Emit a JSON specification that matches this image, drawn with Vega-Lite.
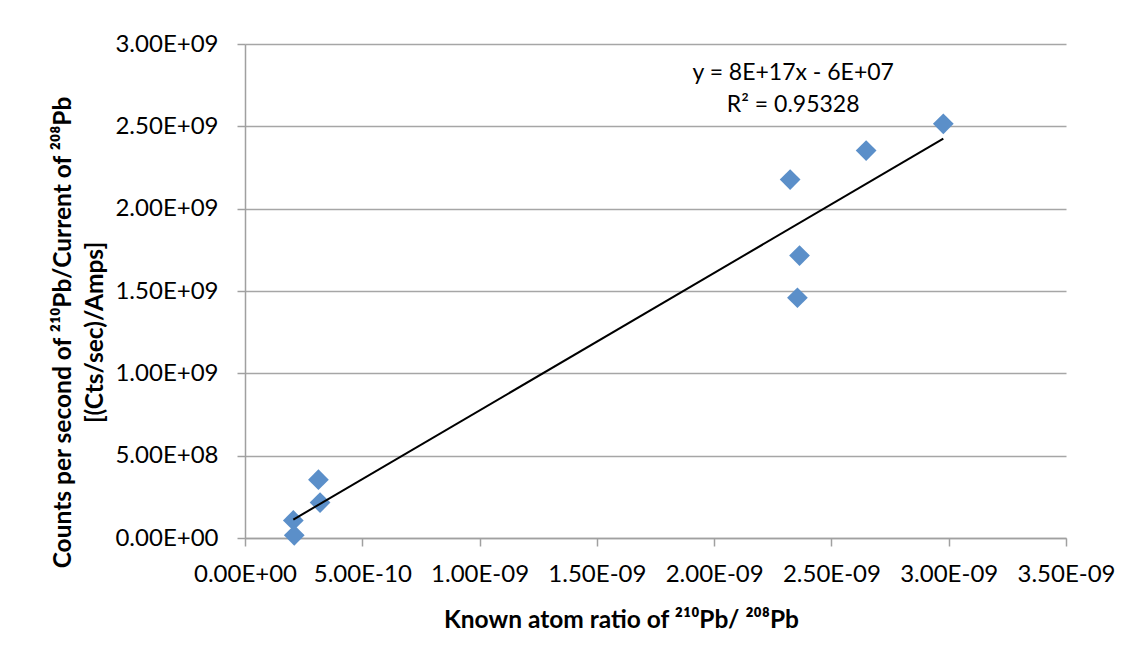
{
  "$schema": "https://vega.github.io/schema/vega-lite/v6.json",
  "width": 821,
  "height": 494,
  "autosize": {"type": "none"},
  "padding": {"left": 245, "top": 44, "right": 74, "bottom": 127},
  "background": "white",
  "config": {
    "view": {"stroke": null},
    "font": "Lato",
    "axis": {
      "labelFont": "Lato",
      "labelFontSize": 24,
      "labelColor": "#000000",
      "titleFont": "Lato",
      "titleFontSize": 24.5,
      "titleFontWeight": "bold",
      "titleColor": "#000000",
      "domainColor": "#a0a0a0",
      "domainWidth": 1.5,
      "tickColor": "#a0a0a0",
      "tickWidth": 1.5,
      "tickSize": 8,
      "gridColor": "#a6a6a6",
      "gridWidth": 1.5
    }
  },
  "datasets": {
    "points": [
      {"ratio": 2.06e-10, "cps": 1.07e8},
      {"ratio": 2.10e-10, "cps": 1.6e7},
      {"ratio": 3.13e-10, "cps": 3.54e8},
      {"ratio": 3.20e-10, "cps": 2.15e8},
      {"ratio": 2.324e-9, "cps": 2.177e9},
      {"ratio": 2.364e-9, "cps": 1.715e9},
      {"ratio": 2.355e-9, "cps": 1.459e9},
      {"ratio": 2.648e-9, "cps": 2.353e9},
      {"ratio": 2.977e-9, "cps": 2.515e9}
    ],
    "note": [
      {"label": "trendline equation"}
    ]
  },
  "layer": [
    {
      "data": {"name": "points"},
      "mark": {"type": "point", "shape": "diamond", "filled": true, "size": 430, "color": "#5b8fc9", "opacity": 1},
      "encoding": {
        "x": {
          "field": "ratio",
          "type": "quantitative",
          "scale": {"domain": [0, 3.5e-9], "nice": false, "zero": true},
          "axis": {
            "values": [0, 5e-10, 1e-9, 1.5e-9, 2e-9, 2.5e-9, 3e-9, 3.5e-9],
            "labelExpr": "datum.value == 0 ? '0.00E+00' : format(datum.value / pow(10, floor(log(abs(datum.value)) / LN10 + 1e-6)), '.2f') + 'E' + (floor(log(abs(datum.value)) / LN10 + 1e-6) < 0 ? '-' : '+') + (abs(floor(log(abs(datum.value)) / LN10 + 1e-6)) < 10 ? '0' : '') + abs(floor(log(abs(datum.value)) / LN10 + 1e-6))",
            "grid": false,
            "labelPadding": 16,
            "labelFlush": false,
            "labelOverlap": false,
            "title": "Known atom ratio of ²¹⁰Pb/ ²⁰⁸Pb",
            "titleX": 376,
            "titleY": 89,
            "titleAnchor": null,
            "titleAlign": "center",
            "titleBaseline": "alphabetic"
          }
        },
        "y": {
          "field": "cps",
          "type": "quantitative",
          "scale": {"domain": [0, 3e9], "nice": false, "zero": true},
          "axis": {
            "values": [0, 5e8, 1e9, 1.5e9, 2e9, 2.5e9, 3e9],
            "labelExpr": "datum.value == 0 ? '0.00E+00' : format(datum.value / pow(10, floor(log(abs(datum.value)) / LN10 + 1e-6)), '.2f') + 'E' + (floor(log(abs(datum.value)) / LN10 + 1e-6) < 0 ? '-' : '+') + (abs(floor(log(abs(datum.value)) / LN10 + 1e-6)) < 10 ? '0' : '') + abs(floor(log(abs(datum.value)) / LN10 + 1e-6))",
            "grid": true,
            "labelPadding": 19,
            "labelFlush": false,
            "labelOverlap": false,
            "title": ["Counts per second of ²¹⁰Pb/Current of ²⁰⁸Pb", "[(Cts/sec)/Amps]"],
            "titleAngle": -90,
            "titleX": -175,
            "titleY": 288,
            "titleAnchor": null,
            "titleAlign": "center",
            "titleBaseline": "alphabetic",
            "titleLineHeight": 32
          }
        }
      }
    },
    {
      "data": {"name": "points"},
      "transform": [{"regression": "cps", "on": "ratio"}],
      "mark": {"type": "line", "color": "#000000", "strokeWidth": 2},
      "encoding": {
        "x": {"field": "ratio", "type": "quantitative"},
        "y": {"field": "cps", "type": "quantitative"}
      }
    },
    {
      "data": {"name": "note"},
      "mark": {"type": "text", "font": "Lato", "fontSize": 23, "fontWeight": "normal", "align": "center", "baseline": "alphabetic", "lineHeight": 32, "color": "#000000"},
      "encoding": {
        "x": {"datum": 2.337e-9, "type": "quantitative"},
        "y": {"datum": 2.781e9, "type": "quantitative"},
        "text": {"value": ["y = 8E+17x - 6E+07", "R² = 0.95328"]}
      }
    }
  ]
}
